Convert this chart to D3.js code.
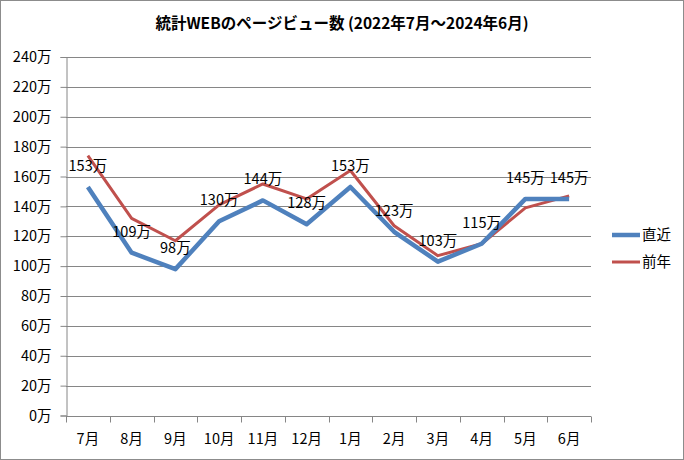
<!DOCTYPE html>
<html><head><meta charset="utf-8">
<script src="https://cdn.jsdelivr.net/npm/d3@7"></script>
<style>body{margin:0;background:#fff}svg{display:block}</style>
</head><body>
<script>
const title = "統計WEBのページビュー数 (2022年7月～2024年6月)";
const categories = ["7月","8月","9月","10月","11月","12月","1月","2月","3月","4月","5月","6月"];
const seriesNames = ["直近","前年"];
const recent = [153,109,98,130,144,128,153,123,103,115,145,145];
const previous = [174,132,117,141,155,145,164,127,107,115,139,147];
const yTicks = [0,20,40,60,80,100,120,140,160,180,200,220,240];
const colors = ["#4F81BD","#C0504D"];

const W = 684, H = 460;
const font = "'Noto Sans CJK JP', 'Noto Sans', sans-serif";
const svg = d3.select("body").append("svg").attr("width", W).attr("height", H);
svg.append("rect").attr("x",0.5).attr("y",0.5).attr("width",W-1).attr("height",H-1)
  .attr("fill","#fff").attr("stroke","#8c8c8c");

const x = d3.scaleBand().domain(categories).range([66, 591]);
const y = d3.scaleLinear().domain([0,240]).range([415.5, 57]);

svg.append("text").attr("x", 342).attr("y", 29).attr("text-anchor","middle")
  .attr("font-family", font).attr("font-weight","bold").attr("font-size",15.5).attr("fill","#000")
  .attr("xml:space","preserve")
  .text(title);

// gridlines
svg.append("g").selectAll("line").data(yTicks.filter(d=>d>0)).join("line")
  .attr("x1",66).attr("x2",591).attr("y1",d=>Math.round(y(d))+0.5).attr("y2",d=>Math.round(y(d))+0.5)
  .attr("stroke","#868686").attr("stroke-width",1);

// y axis
const yAxis = svg.append("g").attr("transform","translate(66.5,0)")
  .call(d3.axisLeft(y).tickValues(yTicks).tickSize(6).tickPadding(9).tickFormat(d=>d+"万"));
yAxis.select(".domain").attr("stroke","#868686");
yAxis.selectAll(".tick line").attr("stroke","#868686");
yAxis.selectAll("text").attr("font-family",font).attr("font-size",14.5).attr("fill","#000");

// x axis
const xAxis = svg.append("g").attr("transform",`translate(0,${Math.round(y(0))+0.5})`)
  .call(d3.axisBottom(x).tickSize(0).tickPadding(17));
xAxis.select(".domain").attr("stroke","#868686").attr("d","M66,0H591");
xAxis.selectAll("text").attr("font-family",font).attr("font-size",14.5).attr("fill","#000");
const bounds = categories.map(c=>x(c)).concat([x.range()[1]]);
xAxis.append("g").selectAll("line").data(bounds).join("line")
  .attr("x1",d=>Math.round(d)+0.5).attr("x2",d=>Math.round(d)+0.5).attr("y1",0).attr("y2",6)
  .attr("stroke","#868686");

const cx = c => x(c) + x.bandwidth()/2;
const line = d3.line().x((d,i)=>cx(categories[i])).y(d=>y(d));
svg.append("path").datum(previous).attr("d",line).attr("fill","none")
  .attr("stroke",colors[1]).attr("stroke-width",3).attr("stroke-linejoin","round");
svg.append("path").datum(recent).attr("d",line).attr("fill","none")
  .attr("stroke",colors[0]).attr("stroke-width",4.5).attr("stroke-linejoin","round");

// data labels
svg.append("g").selectAll("text").data(recent).join("text")
  .attr("x",(d,i)=>cx(categories[i])).attr("y",d=>y(d)-16)
  .attr("text-anchor","middle").attr("font-family",font).attr("font-size",14.5).attr("fill","#000")
  .text(d=>d+"万");

// legend
const lg = svg.append("g");
seriesNames.forEach((n,i)=>{
  const ly = 235 + i*27;
  lg.append("line").attr("x1",612).attr("x2",640).attr("y1",ly).attr("y2",ly)
    .attr("stroke",colors[i]).attr("stroke-width", i===0?4.5:3);
  lg.append("text").attr("x",642).attr("y",ly+5).attr("font-family",font).attr("font-size",14.5)
    .attr("fill","#000").text(n);
});
</script>
</body></html>
